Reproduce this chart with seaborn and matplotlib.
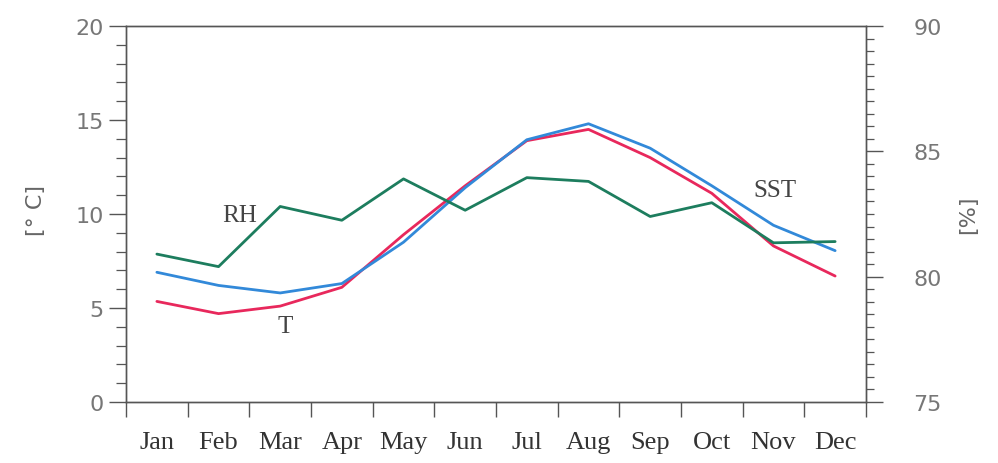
import matplotlib
matplotlib.use("Agg")
import matplotlib.pyplot as plt
from matplotlib.ticker import MultipleLocator, FixedLocator, NullFormatter
import numpy as np
import pandas as pd
import seaborn as sns

# Monthly climatology
months = ["Jan", "Feb", "Mar", "Apr", "May", "Jun",
          "Jul", "Aug", "Sep", "Oct", "Nov", "Dec"]
air_temp = [5.35, 4.7, 5.1, 6.1, 8.9, 11.5, 13.9, 14.5, 13.0, 11.1, 8.3, 6.7]
sst = [6.9, 6.2, 5.8, 6.3, 8.5, 11.4, 13.95, 14.8, 13.5, 11.5, 9.4, 8.05]
rel_hum = [80.9, 80.4, 82.8, 82.25, 83.9, 82.65, 83.95, 83.8, 82.4, 82.95, 81.35, 81.4]

df = pd.DataFrame({
    "pos": np.arange(len(months)) + 0.5,
    "month": months,
    "T": air_temp,
    "SST": sst,
    "RH": rel_hum,
})

sns.set_style("ticks")
plt.rcParams["font.family"] = ["DejaVu Sans"]

fig = plt.figure(figsize=(9.98, 4.64), dpi=100)
ax = fig.add_axes([0.1263, 0.1315, 0.7414, 0.8103])
ax2 = ax.twinx()

red = "#e8285c"
blue = "#3289d9"
green = "#1d7d5e"

sns.lineplot(data=df, x="pos", y="T", ax=ax, color=red, lw=2.0)
sns.lineplot(data=df, x="pos", y="SST", ax=ax, color=blue, lw=2.0)
sns.lineplot(data=df, x="pos", y="RH", ax=ax2, color=green, lw=2.0)

ax.set_xlim(0, 12)
ax.set_ylim(0, 20)
ax2.set_ylim(75, 90)

spine_col = "#555555"
for a in (ax, ax2):
    for s in a.spines.values():
        s.set_color(spine_col)
        s.set_linewidth(1.0)

serif = ["Liberation Serif", "DejaVu Serif"]

# x axis: ticks on month boundaries, labels centred on each month
ax.xaxis.set_major_locator(FixedLocator(np.arange(0, 13)))
ax.xaxis.set_major_formatter(NullFormatter())
ax.xaxis.set_minor_locator(FixedLocator(df["pos"]))
ax.set_xticklabels(months, minor=True)
ax.tick_params(axis="x", which="major", direction="out", length=11, width=1, color=spine_col)
ax.tick_params(axis="x", which="minor", length=0, pad=21, labelsize=19, labelcolor="#333333")
for lab in ax.get_xticklabels(minor=True):
    lab.set_family(serif)

# left axis in degrees C
ax.yaxis.set_major_locator(MultipleLocator(5))
ax.yaxis.set_minor_locator(MultipleLocator(1))
ax.tick_params(axis="y", which="major", direction="out", length=12, width=1,
               color=spine_col, labelsize=16, labelcolor="#777777", pad=4)
ax.tick_params(axis="y", which="minor", direction="out", length=7, width=0.9, color=spine_col)

# right axis in percent
ax2.yaxis.set_major_locator(MultipleLocator(5))
ax2.yaxis.set_minor_locator(MultipleLocator(0.5))
ax2.tick_params(axis="y", which="major", direction="out", length=12, width=1,
                color=spine_col, labelsize=16, labelcolor="#777777", pad=22)
ax2.tick_params(axis="y", which="minor", direction="out", length=6, width=0.9, color=spine_col)

ax.set_xlabel("")
ax.set_ylabel("[° C]", fontsize=16, color="#666666")
ax2.set_ylabel("[%]", fontsize=16, color="#666666")
ax.yaxis.set_label_coords(-0.108, 0.513)
ax2.yaxis.set_label_coords(1.124, 0.50)

ax.text(1.85, 9.95, "RH", fontsize=18, color="#444444", family=serif, ha="center", va="center")
ax.text(2.58, 4.05, "T", fontsize=18, color="#444444", family=serif, ha="center", va="center")
ax.text(10.53, 11.25, "SST", fontsize=18, color="#444444", family=serif, ha="center", va="center")

fig.savefig("out.png", dpi=100, facecolor="white")
